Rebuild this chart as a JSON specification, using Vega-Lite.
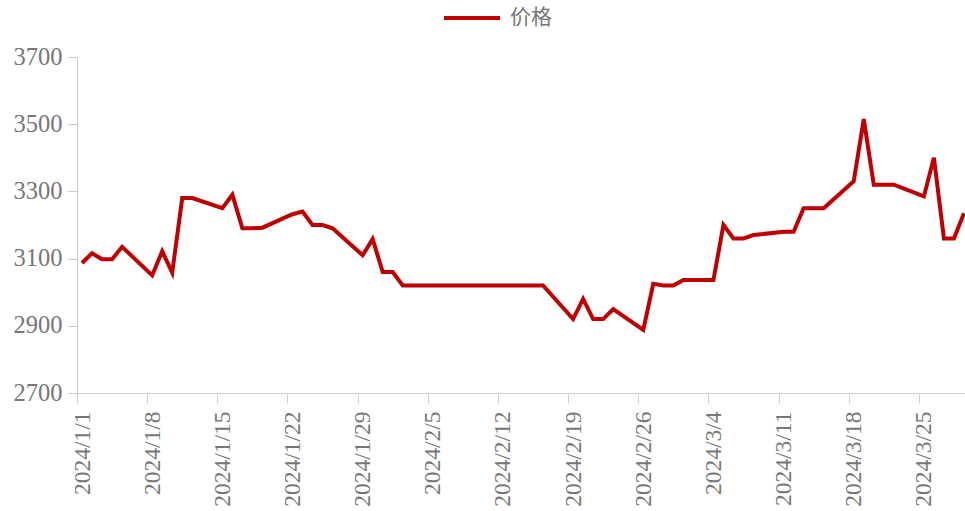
{
  "$schema": "https://vega.github.io/schema/vega-lite/v6.json",
  "width": 892,
  "height": 336,
  "autosize": "none",
  "padding": {"left": 77, "top": 57, "right": -4, "bottom": 118},
  "background": "white",
  "config": {
    "view": {"stroke": null},
    "axis": {
      "domainColor": "#cccccc",
      "tickColor": "#cccccc",
      "labelColor": "#777777",
      "labelFont": "Liberation Serif",
      "labelFontSize": 23.5,
      "grid": false,
      "title": null
    }
  },
  "data": {
    "values": [
      {"date": "2024-01-01", "price": 3087},
      {"date": "2024-01-02", "price": 3116},
      {"date": "2024-01-03", "price": 3098},
      {"date": "2024-01-04", "price": 3098},
      {"date": "2024-01-05", "price": 3135},
      {"date": "2024-01-08", "price": 3050},
      {"date": "2024-01-09", "price": 3122},
      {"date": "2024-01-10", "price": 3058},
      {"date": "2024-01-11", "price": 3280},
      {"date": "2024-01-12", "price": 3280},
      {"date": "2024-01-15", "price": 3250},
      {"date": "2024-01-16", "price": 3290},
      {"date": "2024-01-17", "price": 3190},
      {"date": "2024-01-18", "price": 3190},
      {"date": "2024-01-19", "price": 3192},
      {"date": "2024-01-22", "price": 3232},
      {"date": "2024-01-23", "price": 3240},
      {"date": "2024-01-24", "price": 3200},
      {"date": "2024-01-25", "price": 3200},
      {"date": "2024-01-26", "price": 3190},
      {"date": "2024-01-29", "price": 3110},
      {"date": "2024-01-30", "price": 3158},
      {"date": "2024-01-31", "price": 3060},
      {"date": "2024-02-01", "price": 3060},
      {"date": "2024-02-02", "price": 3020},
      {"date": "2024-02-05", "price": 3020},
      {"date": "2024-02-06", "price": 3020},
      {"date": "2024-02-07", "price": 3020},
      {"date": "2024-02-08", "price": 3020},
      {"date": "2024-02-16", "price": 3020},
      {"date": "2024-02-19", "price": 2920},
      {"date": "2024-02-20", "price": 2980},
      {"date": "2024-02-21", "price": 2920},
      {"date": "2024-02-22", "price": 2920},
      {"date": "2024-02-23", "price": 2950},
      {"date": "2024-02-26", "price": 2888},
      {"date": "2024-02-27", "price": 3025},
      {"date": "2024-02-28", "price": 3020},
      {"date": "2024-02-29", "price": 3020},
      {"date": "2024-03-01", "price": 3036},
      {"date": "2024-03-04", "price": 3036},
      {"date": "2024-03-05", "price": 3200},
      {"date": "2024-03-06", "price": 3160},
      {"date": "2024-03-07", "price": 3160},
      {"date": "2024-03-08", "price": 3170},
      {"date": "2024-03-11", "price": 3180},
      {"date": "2024-03-12", "price": 3180},
      {"date": "2024-03-13", "price": 3250},
      {"date": "2024-03-14", "price": 3250},
      {"date": "2024-03-15", "price": 3250},
      {"date": "2024-03-18", "price": 3330},
      {"date": "2024-03-19", "price": 3515},
      {"date": "2024-03-20", "price": 3320},
      {"date": "2024-03-21", "price": 3320},
      {"date": "2024-03-22", "price": 3320},
      {"date": "2024-03-25", "price": 3285},
      {"date": "2024-03-26", "price": 3400},
      {"date": "2024-03-27", "price": 3160},
      {"date": "2024-03-28", "price": 3160},
      {"date": "2024-03-29", "price": 3235}
    ]
  },
  "mark": {"type": "line", "strokeWidth": 4, "strokeJoin": "miter", "clip": true},
  "encoding": {
    "x": {
      "field": "date",
      "type": "temporal",
      "timeUnit": "utcyearmonthdate",
      "bandPosition": 0.5,
      "scale": {
        "type": "utc",
        "domain": [
          {"year": 2024, "month": 1, "date": 1, "utc": true},
          {"year": 2024, "month": 3, "date": 30, "utc": true}
        ],
        "nice": false
      },
      "axis": {
        "labelExpr": "utcFormat(datum.value, '%Y/%-m/%-d')",
        "labelAngle": -90,
        "labelOffset": 5,
        "tickSize": 10,
        "labelPadding": 8,
        "labelOverlap": false,
        "values": [
          {"year": 2024, "month": 1, "date": 1, "utc": true},
          {"year": 2024, "month": 1, "date": 8, "utc": true},
          {"year": 2024, "month": 1, "date": 15, "utc": true},
          {"year": 2024, "month": 1, "date": 22, "utc": true},
          {"year": 2024, "month": 1, "date": 29, "utc": true},
          {"year": 2024, "month": 2, "date": 5, "utc": true},
          {"year": 2024, "month": 2, "date": 12, "utc": true},
          {"year": 2024, "month": 2, "date": 19, "utc": true},
          {"year": 2024, "month": 2, "date": 26, "utc": true},
          {"year": 2024, "month": 3, "date": 4, "utc": true},
          {"year": 2024, "month": 3, "date": 11, "utc": true},
          {"year": 2024, "month": 3, "date": 18, "utc": true},
          {"year": 2024, "month": 3, "date": 25, "utc": true}
        ]
      }
    },
    "y": {
      "field": "price",
      "type": "quantitative",
      "scale": {"domain": [2700, 3700], "nice": false, "zero": false},
      "axis": {
        "values": [2700, 2900, 3100, 3300, 3500, 3700],
        "format": "d",
        "labelFontSize": 24.5,
        "tickSize": 10,
        "labelPadding": 5
      }
    },
    "color": {
      "datum": "价格",
      "type": "nominal",
      "scale": {"range": ["#c00000"]},
      "legend": {
        "title": null,
        "orient": "none",
        "legendX": 365,
        "legendY": -69,
        "symbolType": "stroke",
        "symbolSize": 3136,
        "symbolStrokeWidth": 4,
        "labelFont": "Noto Sans CJK SC",
        "labelFontSize": 21,
        "labelColor": "#777777",
        "labelOffset": 8
      }
    }
  }
}
